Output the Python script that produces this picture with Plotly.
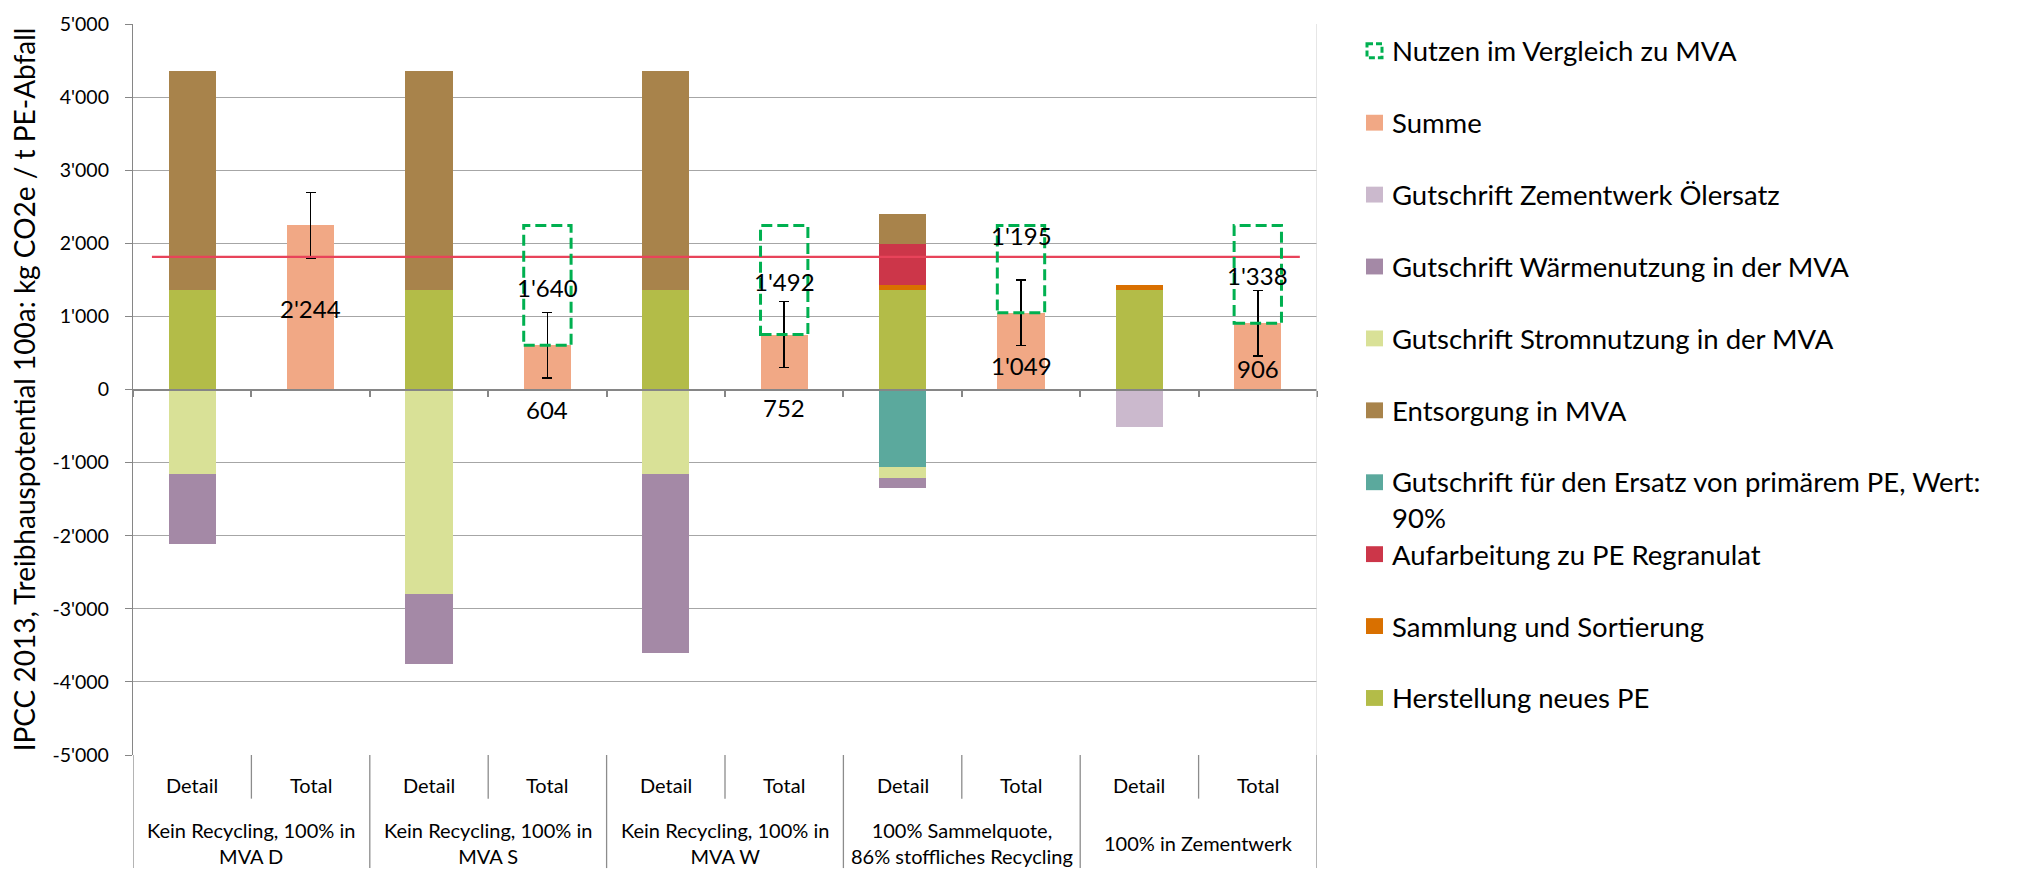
import plotly.graph_objects as go

# ---------------- data ----------------
groups = ["Kein Recycling, 100% in<br>MVA D", "Kein Recycling, 100% in<br>MVA S",
          "Kein Recycling, 100% in<br>MVA W", "100% Sammelquote,<br>86% stoffliches Recycling",
          "100% in Zementwerk"]
sub_labels = ["Detail", "Total"]

herstellung = [1367, 1367, 1367, 1367, 1367]
sammlung = [None, None, None, 58, 58]
aufarbeitung = [None, None, None, 566, None]
ersatz = [None, None, None, -1055, None]
entsorgung = [2990, 2990, 2990, 407, None]
strom = [-1154, -2791, -1154, -159, None]
waerme = [-959, -962, -2451, -135, None]
zement = [None, None, None, None, -519]
summe = [2244, 604, 752, 1049, 906]
nutzen = [None, 1640, 1492, 1195, 1338]
summe_err = [450, 450, 450, 450, 450]
mva_reference = 1815

ytick_vals = [-5000, -4000, -3000, -2000, -1000, 0, 1000, 2000, 3000, 4000, 5000]
ytick_text = ["-5'000", "-4'000", "-3'000", "-2'000", "-1'000", "0",
              "1'000", "2'000", "3'000", "4'000", "5'000"]

# label placement (y in data units)
summe_label_y = [1113, -271, -249, 322, 281]
nutzen_label_y = [None, 1401, 1475, 2100, 1557]

series = [
    ("Herstellung neues PE", herstellung, "#b3bc48"),
    ("Sammlung und Sortierung", sammlung, "#d97000"),
    ("Aufarbeitung zu PE Regranulat", aufarbeitung, "#cc3649"),
    ("Gutschrift für den Ersatz von primärem PE, Wert:<br>90%", ersatz, "#5ba99d"),
    ("Entsorgung in MVA", entsorgung, "#a8834b"),
    ("Gutschrift Stromnutzung in der MVA", strom, "#d9e197"),
    ("Gutschrift Wärmenutzung in der MVA", waerme, "#a489a6"),
    ("Gutschrift Zementwerk Ölersatz", zement, "#cbb9cd"),
]
summe_name, summe_color = "Summe", "#f1a885"
nutzen_name, nutzen_color = "Nutzen im Vergleich zu MVA", "#00b050"
ref_color = "#e8435a"

def fmt(v):
    return f"{v:,}".replace(",", "'")

detail_x = [2 * i for i in range(len(groups))]
total_x = [2 * i + 1 for i in range(len(groups))]

FONT = "Lato"
fig = go.Figure()

for name, vals, col in series:
    fig.add_trace(go.Bar(x=detail_x, y=vals, name=name, marker=dict(color=col, line=dict(width=0)),
                         width=0.4, showlegend=False))

fig.add_trace(go.Bar(x=total_x, y=summe, name=summe_name,
                     marker=dict(color=summe_color, line=dict(width=0)), width=0.4, showlegend=False,
                     error_y=dict(type="data", array=summe_err, color="black", thickness=1.5, width=5)))

# reference line
fig.add_trace(go.Scatter(x=[-0.34, 9.355], y=[mva_reference, mva_reference], mode="lines",
                         line=dict(color=ref_color, width=2.2), showlegend=False, hoverinfo="skip"))

# Nutzen dashed boxes
for i, (s, n) in enumerate(zip(summe, nutzen)):
    if n is None:
        continue
    fig.add_shape(type="rect", xref="x", yref="y", x0=total_x[i] - 0.2, x1=total_x[i] + 0.2,
                  y0=s, y1=s + n, line=dict(color=nutzen_color, width=3, dash="11px,5px"),
                  fillcolor="rgba(0,0,0,0)", layer="above")

annotations = []
# value labels
for i, s in enumerate(summe):
    annotations.append(dict(x=total_x[i], y=summe_label_y[i], xref="x", yref="y", text=fmt(s),
                            showarrow=False, font=dict(family=FONT, size=24, color="black")))
for i, n in enumerate(nutzen):
    if n is None:
        continue
    annotations.append(dict(x=total_x[i], y=nutzen_label_y[i], xref="x", yref="y", text=fmt(n),
                            showarrow=False, font=dict(family=FONT, size=24, color="black")))

# category table labels
PH = 737.0
def py(ypx):
    return (755 - ypx) / PH

for i in range(len(groups)):
    for j, lab in enumerate(sub_labels):
        annotations.append(dict(x=2 * i + j, y=py(785), xref="x", yref="paper", text=lab,
                                showarrow=False, font=dict(family=FONT, size=20, color="black"),
                                yanchor="middle"))
    annotations.append(dict(x=2 * i + 0.5, y=py(844), xref="x", yref="paper", text=groups[i],
                            showarrow=False, font=dict(family=FONT, size=20, color="black"),
                            yanchor="middle"))

# table lines
grid_dark = "#8c8c8c"
for k in range(len(groups) * 2 + 1):
    xv = k - 0.5
    if k % 2 == 0:
        y1 = py(869)
    else:
        y1 = py(799)
    fig.add_shape(type="line", xref="x", yref="paper", x0=xv, x1=xv, y0=0, y1=y1,
                  line=dict(color=grid_dark, width=1.3))
fig.add_shape(type="line", xref="x", yref="paper", x0=9.5, x1=9.5, y0=0, y1=1,
              line=dict(color="#d9d9d9", width=1.3))

# manual legend
legend_items = [(nutzen_name, None), (summe_name, summe_color)] + \
    [(n, c) for n, _, c in reversed(series)]
LX = 1366
leg_y = [45, 117.5, 190, 262.5, 335, 407.5, 480, 552.5, 625, 697.5]
W = 2024 - 133 - 707
def px(xpx):
    return (xpx - 133) / W
for (name, col), yc in zip(legend_items, leg_y):
    if col is None:
        fig.add_shape(type="rect", xref="paper", yref="paper", x0=px(LX + 1), x1=px(LX + 16),
                      y0=py(yc - 7), y1=py(yc + 7),
                      line=dict(color=nutzen_color, width=3, dash="6px,3px"))
    else:
        fig.add_shape(type="rect", xref="paper", yref="paper", x0=px(LX), x1=px(LX + 17),
                      y0=py(yc - 8), y1=py(yc + 8), line=dict(width=0), fillcolor=col)
    if "<br>" in name:
        annotations.append(dict(x=px(LX + 24), y=py(yc - 19), xref="paper", yref="paper",
                                text=name, showarrow=False, xanchor="left", yanchor="top",
                                align="left",
                                font=dict(family=FONT, size=27.5, color="black")))
    else:
        annotations.append(dict(x=px(LX + 24), y=py(yc), xref="paper", yref="paper",
                                text=name, showarrow=False, xanchor="left", yanchor="middle",
                                align="left",
                                font=dict(family=FONT, size=27.5, color="black")))

fig.update_layout(
    width=2024, height=869, autosize=False,
    margin=dict(l=133, r=707, t=18, b=114, pad=0),
    paper_bgcolor="white", plot_bgcolor="white",
    barmode="relative", bargap=0,
    font=dict(family=FONT, color="black"),
    annotations=annotations,
    showlegend=False,
    xaxis=dict(range=[-0.5, 9.5], anchor="free", position=0.5, showgrid=False, zeroline=False,
               showline=True, linecolor="#868686", linewidth=2,
               tickmode="array", tickvals=[k - 0.5 for k in range(11)], ticks="outside",
               ticklen=6, tickwidth=2, tickcolor="#868686", showticklabels=False),
    yaxis=dict(range=[-5000, 5000], tickmode="array", tickvals=ytick_vals, ticktext=ytick_text,
               showgrid=True, gridcolor="#a6a6a6", gridwidth=1.3, zeroline=False,
               showline=True, linecolor="#868686", linewidth=1.3,
               ticks="outside", ticklen=7, tickcolor="#868686", tickwidth=1.3,
               ticklabelstandoff=12,
               tickfont=dict(family=FONT, size=19.5, color="black"),
               title=dict(text="IPCC 2013, Treibhauspotential 100a: kg CO2e / t PE-Abfall",
                          font=dict(family=FONT, size=28, color="black"), standoff=8)),
)

fig.write_html("out.html", config={"displayModeBar": False},
               post_script="document.body.style.margin='0';document.body.style.overflow='hidden';")
